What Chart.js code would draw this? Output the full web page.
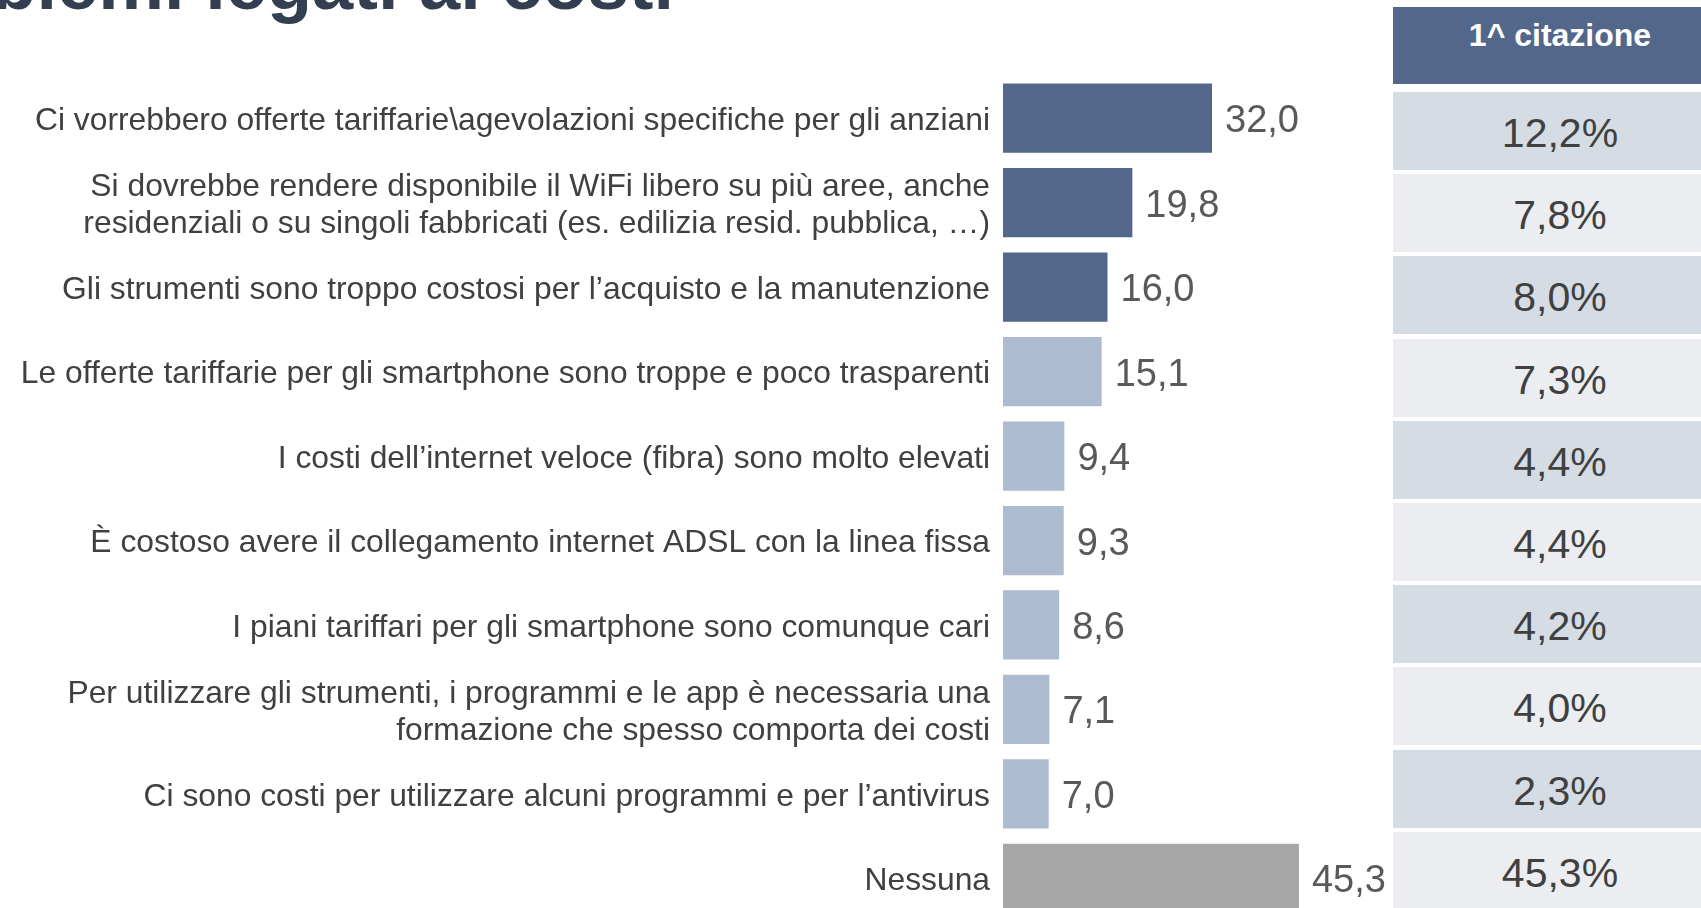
<!DOCTYPE html>
<html>
<head>
<meta charset="utf-8">
<script src="https://cdn.jsdelivr.net/npm/chart.js@4.4.1/dist/chart.umd.min.js"></script>
<style>
  html, body { margin:0; padding:0; background:#ffffff; overflow:hidden; width:1701px; height:908px; }
  #wrap { position:relative; width:1701px; height:908px; overflow:hidden; font-family:"Liberation Sans", Arial, sans-serif; }
  #title { position:absolute; right:1027px; top:-53px; font-size:74px; line-height:74px; font-weight:bold; color:#333F50; white-space:nowrap; }
  #chartBox { position:absolute; left:0; top:0; width:1393px; height:952px; }
  #table { position:absolute; left:1393px; top:0; width:334px; height:908px; }
  .hdr { position:absolute; left:0; width:334px; background:#52678A; color:#ffffff; font-weight:bold; font-size:32px; line-height:32px; text-align:center; box-sizing:border-box; }
  .cell { position:absolute; left:0; width:334px; display:flex; align-items:center; justify-content:center; font-size:41px; color:#404040; box-sizing:border-box; padding-top:5px; }
</style>
</head>
<body>
<div id="wrap">
  <div id="title">Problemi legati ai costi</div>
  <div id="chartBox"><canvas id="c" width="1393" height="952"></canvas></div>
  <div id="table"></div>
</div>
<script>
// ---- data ----
const categories = [
  "Ci vorrebbero offerte tariffarie\\agevolazioni specifiche per gli anziani",
  ["Si dovrebbe rendere disponibile il WiFi libero su più aree, anche", "residenziali o su singoli fabbricati (es. edilizia resid. pubblica, …)"],
  "Gli strumenti sono troppo costosi per l’acquisto e la manutenzione",
  "Le offerte tariffarie per gli smartphone sono troppe e poco trasparenti",
  "I costi dell’internet veloce (fibra) sono molto elevati",
  "È costoso avere il collegamento internet ADSL con la linea fissa",
  "I piani tariffari per gli smartphone sono comunque cari",
  ["Per utilizzare gli strumenti, i programmi e le app è necessaria una", "formazione che spesso comporta dei costi"],
  "Ci sono costi per utilizzare alcuni programmi e per l’antivirus",
  "Nessuna"
];
const totalValues = [32.0, 19.8, 16.0, 15.1, 9.4, 9.3, 8.6, 7.1, 7.0, 45.3];
const firstMention = [12.2, 7.8, 8.0, 7.3, 4.4, 4.4, 4.2, 4.0, 2.3, 45.3];
const tableHeader = "1^ citazione";

// ---- helpers ----
const fmt = v => v.toFixed(1).replace('.', ',');
const FONT = '"Liberation Sans", Arial, sans-serif';

// ---- table (HTML) ----
const table = document.getElementById('table');
const hdr = document.createElement('div');
hdr.className = 'hdr';
hdr.style.top = '7px';
hdr.style.height = '77px';
hdr.style.paddingTop = '12px';
hdr.textContent = tableHeader;
table.appendChild(hdr);
firstMention.forEach((v, i) => {
  const d = document.createElement('div');
  d.className = 'cell';
  d.style.top = Math.round(92 + 82.2 * i) + 'px';
  d.style.height = '78px';
  d.style.background = (i % 2 === 0) ? '#D6DCE4' : '#EBEDF1';
  d.textContent = fmt(v) + '%';
  table.appendChild(d);
});

// ---- chart ----
const valueLabels = {
  id: 'valueLabels',
  afterDatasetsDraw(chart) {
    const ctx = chart.ctx;
    const meta = chart.getDatasetMeta(0);
    ctx.save();
    ctx.font = '38px ' + FONT;
    ctx.fillStyle = '#595959';
    ctx.textAlign = 'left';
    ctx.textBaseline = 'alphabetic';
    meta.data.forEach((bar, i) => {
      const v = chart.data.datasets[0].data[i];
      ctx.fillText(fmt(v), bar.x + 13, bar.y + 14);
    });
    ctx.restore();
  }
};

new Chart(document.getElementById('c'), {
  type: 'bar',
  data: {
    labels: categories,
    datasets: [{
      data: totalValues,
      backgroundColor: ctx => ctx.dataIndex < 3 ? '#52678A' : (ctx.dataIndex < categories.length - 1 ? '#ADBBD0' : '#A6A6A6'),
      borderWidth: 0,
      barPercentage: 0.82,
      categoryPercentage: 1.0
    }]
  },
  options: {
    indexAxis: 'y',
    responsive: false,
    animation: false,
    layout: { padding: { top: 76, bottom: 0, left: 0, right: 0 } },
    plugins: { legend: { display: false }, tooltip: { enabled: false }, title: { display: false } },
    scales: {
      x: { display: false, min: 0, max: 59.7 },
      y: {
        grid: { display: false, drawTicks: false, tickLength: 0 },
        border: { display: false },
        afterFit: scale => { scale.width = 1003; },
        ticks: {
          autoSkip: false,
          padding: 13,
          labelOffset: 3,
          color: '#404040',
          font: { family: FONT, size: 31.8, lineHeight: 1.16 }
        }
      }
    }
  },
  plugins: [valueLabels]
});
</script>
</body>
</html>
